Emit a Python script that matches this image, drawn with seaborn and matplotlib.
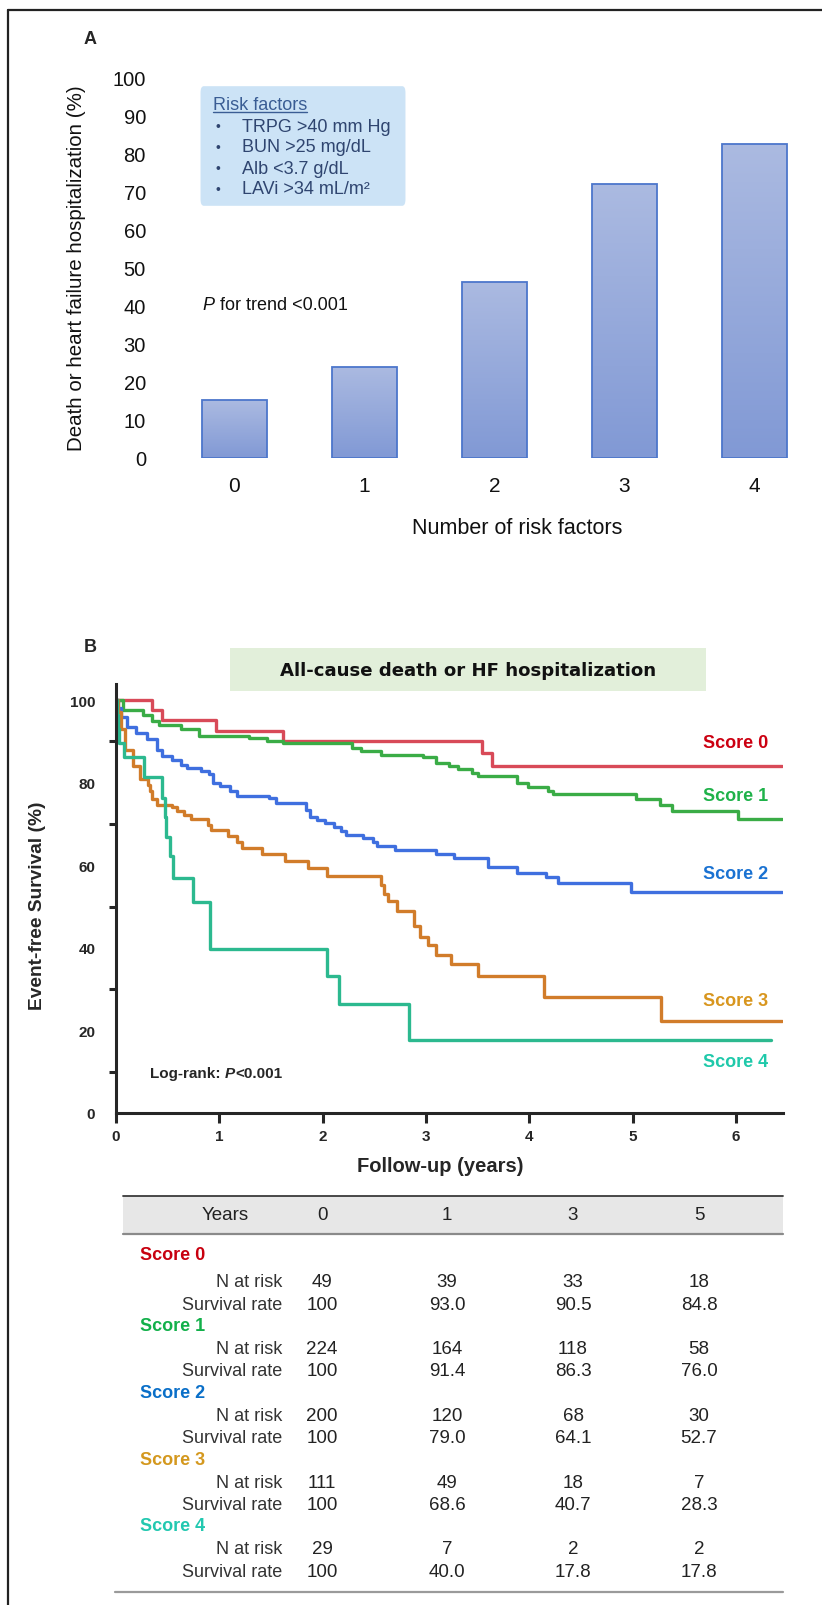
import numpy as np
import pandas as pd
import matplotlib
matplotlib.use("Agg")
import matplotlib.pyplot as plt
import seaborn as sns
from matplotlib.patches import FancyBboxPatch, Rectangle
from matplotlib.lines import Line2D
from matplotlib.colors import LinearSegmentedColormap

# ---------------- data ----------------
# Panel A
risk_factor_counts = ["0", "1", "2", "3", "4"]
event_rate_pct = [15.2, 24.0, 46.3, 71.9, 82.4]
risk_factor_items = ["TRPG >40 mm Hg", "BUN >25 mg/dL", "Alb <3.7 g/dL", "LAVi >34 mL/m\u00b2"]

# Panel B: Kaplan-Meier step curves (event times in years, survival % after step)
score_names = ["Score 0", "Score 1", "Score 2", "Score 3", "Score 4"]
score0_times = [0.35, 0.45, 0.97, 1.62, 3.54, 3.64]
score0_surv = [97.6, 95.1, 92.6, 90.2, 87.1, 84.0]
score1_times = [0.07, 0.26, 0.35, 0.42, 0.63, 0.80, 1.29, 1.46, 1.62, 2.28, 2.37, 2.56, 2.97,
                3.10, 3.22, 3.31, 3.45, 3.50, 3.88, 3.99, 4.18, 4.23, 5.03, 5.26, 5.38, 6.02]
score1_surv = [97.5, 96.5, 95.0, 94.0, 93.0, 91.4, 90.8, 90.2, 89.6, 88.3, 87.7, 86.8, 86.2,
               84.8, 84.0, 83.3, 82.4, 81.6, 79.9, 78.9, 78.1, 77.2, 76.0, 74.5, 73.1, 71.2]
score2_times = [0.02, 0.05, 0.11, 0.19, 0.30, 0.40, 0.45, 0.54, 0.63, 0.69, 0.82, 0.90, 0.94,
                1.01, 1.10, 1.17, 1.48, 1.55, 1.84, 1.88, 1.95, 2.02, 2.11, 2.18, 2.23, 2.39,
                2.49, 2.53, 2.70, 3.10, 3.27, 3.60, 3.88, 4.16, 4.28, 4.98]
score2_surv = [98.0, 96.0, 93.5, 92.0, 90.6, 88.0, 86.4, 85.4, 84.3, 83.5, 82.8, 82.2, 79.9,
               79.1, 78.1, 76.8, 76.2, 75.2, 73.5, 71.8, 71.0, 70.3, 69.3, 68.3, 67.3, 66.5,
               65.6, 64.7, 63.7, 62.7, 61.8, 59.7, 58.2, 57.2, 55.7, 53.5]
score3_times = [0.02, 0.05, 0.09, 0.16, 0.23, 0.31, 0.33, 0.35, 0.40, 0.54, 0.59, 0.66, 0.73,
                0.89, 0.92, 1.08, 1.17, 1.22, 1.41, 1.64, 1.86, 2.04, 2.56, 2.59, 2.63, 2.72,
                2.88, 2.94, 3.02, 3.10, 3.24, 3.50, 4.14, 5.27]
score3_surv = [97.0, 93.0, 88.0, 84.0, 81.0, 79.5, 78.0, 76.0, 74.7, 74.0, 73.1, 72.2, 71.2,
               69.8, 68.5, 67.2, 65.6, 64.3, 62.7, 61.0, 59.3, 57.5, 55.2, 53.0, 51.4, 49.0,
               45.2, 42.7, 40.6, 38.2, 36.0, 33.3, 28.0, 22.4]
score4_times = [0.01, 0.02, 0.03, 0.08, 0.27, 0.45, 0.47, 0.48, 0.52, 0.55, 0.75, 0.91, 2.04,
                2.16, 2.84]
score4_surv = [96.5, 93.0, 89.5, 86.2, 81.4, 76.4, 71.8, 66.8, 62.2, 56.8, 51.0, 39.7, 33.1,
               26.5, 17.7]
curve_end_years = [6.45, 6.45, 6.45, 6.45, 6.34]

# Table
table_years = ["0", "1", "3", "5"]
n_at_risk_score0 = [49, 39, 33, 18]
n_at_risk_score1 = [224, 164, 118, 58]
n_at_risk_score2 = [200, 120, 68, 30]
n_at_risk_score3 = [111, 49, 18, 7]
n_at_risk_score4 = [29, 7, 2, 2]
surv_rate_score0 = ["100", "93.0", "90.5", "84.8"]
surv_rate_score1 = ["100", "91.4", "86.3", "76.0"]
surv_rate_score2 = ["100", "79.0", "64.1", "52.7"]
surv_rate_score3 = ["100", "68.6", "40.7", "28.3"]
surv_rate_score4 = ["100", "40.0", "17.8", "17.8"]

# ---------------- style ----------------
sns.set_theme(style="white")
plt.rcParams["font.family"] = ["Liberation Sans", "DejaVu Sans"]

W, H = 822, 1606
fig = plt.figure(figsize=(W / 100, H / 100), dpi=100)


def fx(x):
    return x / W


def fy(y):
    return 1 - y / H


curve_colors = ["#d84a58", "#3aac46", "#3f6fdf", "#d17c2a", "#2cb98f"]
label_colors = ["#cc0011", "#1fb24a", "#1a72d2", "#d8961e", "#1fc9aa"]
table_label_colors = ["#c8000f", "#12b04a", "#0a6fc8", "#d4981e", "#22c8b0"]

# outer frame (left + top visible)
fig.add_artist(Line2D([fx(8), fx(8)], [fy(11), 0], transform=fig.transFigure,
                      color="#222222", lw=1.6))
fig.add_artist(Line2D([fx(8), 1], [fy(11), fy(11)], transform=fig.transFigure,
                      color="#222222", lw=1.6))

# ---------------- Panel A ----------------
fig.text(fx(90), fy(39), "A", fontsize=13, fontweight="bold", ha="center", va="center")

axA = fig.add_axes([fx(169.5), fy(459), 649.5 / W, 381 / H])
sns.barplot(x=risk_factor_counts, y=event_rate_pct, ax=axA, color="#9aaede", width=0.5,
            saturation=1, edgecolor="#4c76cb", linewidth=1.3)
grad = np.linspace(0, 1, 256).reshape(-1, 1)
gcmap = LinearSegmentedColormap.from_list("barg", ["#8199d5", "#abbae1"])
for p in list(axA.patches):
    x0, y0, w, h = p.get_x(), p.get_y(), p.get_width(), p.get_height()
    im = axA.imshow(grad, extent=[x0, x0 + w, y0, y0 + h], origin="lower", cmap=gcmap,
                    aspect="auto", zorder=0.5)
    im.set_clip_path(p)
    p.set_facecolor("none")
    p.set_zorder(1)
axA.set_xlim(-0.5, 4.5)
axA.set_ylim(0, 100)
axA.set_yticks(np.arange(0, 101, 10))
for s in axA.spines.values():
    s.set_visible(False)
axA.tick_params(axis="y", length=0, pad=17, labelsize=14.5, labelcolor="#111111")
axA.tick_params(axis="x", length=0, pad=13, labelsize=15, labelcolor="#111111")
axA.set_xlabel("")
axA.set_ylabel("")
fig.text(fx(76), fy(268), "Death or heart failure hospitalization (%)", rotation=90,
         fontsize=14.8, ha="center", va="center", color="#111111")
fig.text(fx(517), fy(528), "Number of risk factors", fontsize=15.5, ha="center", va="center",
         color="#111111")

# risk factor box
box = FancyBboxPatch((fx(203), fy(202)), fx(200), (202 - 92) / H,
                     boxstyle="round,pad=0.003,rounding_size=0.004",
                     transform=fig.transFigure, fc="#cce3f6", ec="none")
fig.add_artist(box)
txtc = "#2f4570"
rf = fig.text(fx(213), fy(105), "Risk factors", fontsize=13, color="#3a5d94",
              ha="left", va="center")
for i, item in enumerate(risk_factor_items):
    yy = 127 + i * 21
    fig.text(fx(218), fy(yy), "\u2022", fontsize=10, color=txtc, ha="center", va="center")
    fig.text(fx(242), fy(yy), item, fontsize=13, color=txtc, ha="left", va="center")

ptxt = fig.text(fx(202), fy(305), "P", fontsize=13, style="italic", ha="left", va="center",
                color="#111111")

# ---------------- Panel B ----------------
fig.text(fx(90), fy(647), "B", fontsize=13, fontweight="bold", ha="center", va="center")
fig.add_artist(Rectangle((fx(230), fy(692)), fx(476), (692 - 649) / H,
                         transform=fig.transFigure, fc="#e2efda", ec="none"))
fig.text(fx(468), fy(671), "All-cause death or HF hospitalization", fontsize=13.1,
         fontweight="bold", family="DejaVu Sans", ha="center", va="center", color="#111111")

axB = fig.add_axes([fx(116), fy(1114), 667 / W, (1114 - 685) / H])
all_times = [score0_times, score1_times, score2_times, score3_times, score4_times]
all_surv = [score0_surv, score1_surv, score2_surv, score3_surv, score4_surv]
frames = []
for name, t, s, end in zip(score_names, all_times, all_surv, curve_end_years):
    tt = [0.0] + list(t) + [end]
    ss = [100.0] + list(s) + [s[-1]]
    frames.append(pd.DataFrame({"Years": tt, "Survival": ss, "Score": name}))
km = pd.concat(frames, ignore_index=True)
sns.lineplot(data=km, x="Years", y="Survival", hue="Score", hue_order=score_names,
             palette=curve_colors, drawstyle="steps-post", estimator=None, sort=False,
             linewidth=2.4, legend=False, ax=axB)
axB.set_xlim(0, 6.455)
axB.set_ylim(0, 103.9)
axB.set_xticks(range(0, 7))
axB.set_yticks(range(0, 101, 20))
axB.set_yticks(range(10, 100, 20), minor=True)
for side in ["top", "right"]:
    axB.spines[side].set_visible(False)
for side in ["left", "bottom"]:
    axB.spines[side].set_linewidth(2.2)
    axB.spines[side].set_color("#262626")
axB.tick_params(axis="y", which="major", direction="out", length=9.4, width=2.2,
                color="#262626", pad=5.5, labelsize=11)
axB.tick_params(axis="y", which="minor", direction="out", length=5, width=2.2,
                color="#262626", left=True)
axB.tick_params(axis="x", which="major", direction="out", length=7.2, width=2.2,
                color="#262626", pad=4, labelsize=11, bottom=True)
for lab in axB.get_xticklabels() + axB.get_yticklabels():
    lab.set_fontweight("bold")
axB.set_xlabel("")
axB.set_ylabel("")
label_y = [89.7, 76.9, 58.0, 27.2, 12.4]
for name, yv, c in zip(score_names, label_y, label_colors):
    axB.text(6.31, yv, name, color=c, fontsize=13, fontweight="bold", ha="right",
             va="center")
fig.text(fx(37), fy(906), "Event-free Survival (%)", rotation=90, fontsize=13.8,
         fontweight="bold", ha="center", va="center")
fig.text(fx(440), fy(1167), "Follow-up (years)", fontsize=14.5, fontweight="bold",
         ha="center", va="center")
lr = fig.text(fx(150), fy(1074), "Log-rank: ", fontsize=11, fontweight="bold", ha="left",
              va="center")

# ---------------- Table ----------------
fig.add_artist(Rectangle((fx(123), fy(1235)), fx(660), (1235 - 1197) / H,
                         transform=fig.transFigure, fc="#e7e7e7", ec="none"))
fig.add_artist(Line2D([fx(123), fx(783)], [fy(1197), fy(1197)], transform=fig.transFigure,
                      color="#3a3a3a", lw=1.3))
fig.add_artist(Line2D([fx(123), fx(783)], [fy(1235), fy(1235)], transform=fig.transFigure,
                      color="#8a8a8a", lw=1.6))
fig.add_artist(Line2D([fx(115), fx(783)], [fy(1593), fy(1593)], transform=fig.transFigure,
                      color="#9a9a9a", lw=1.6))
col_x = [322, 447, 573, 699]
fig.text(fx(225), fy(1216), "Years", fontsize=13.5, ha="center", va="center", color="#222222")
for cx, yr in zip(col_x, table_years):
    fig.text(fx(cx), fy(1216), yr, fontsize=13.5, ha="center", va="center", color="#222222")
n_rows = [n_at_risk_score0, n_at_risk_score1, n_at_risk_score2, n_at_risk_score3,
          n_at_risk_score4]
s_rows = [surv_rate_score0, surv_rate_score1, surv_rate_score2, surv_rate_score3,
          surv_rate_score4]
for k in range(5):
    y0 = 1260 + 66.75 * k
    if k == 0:
        y0 = 1256
    ny = 1283 + 66.75 * k
    fig.text(fx(140), fy(y0), score_names[k], fontsize=13, fontweight="bold",
             color=table_label_colors[k], ha="left", va="center")
    fig.text(fx(282), fy(ny), "N at risk", fontsize=13, ha="right", va="center",
             color="#333333")
    fig.text(fx(282), fy(ny + 22.2), "Survival rate", fontsize=13, ha="right", va="center",
             color="#333333")
    for cx, nv, sv in zip(col_x, n_rows[k], s_rows[k]):
        fig.text(fx(cx), fy(ny), str(nv), fontsize=13.5, ha="center", va="center",
                 color="#222222")
        fig.text(fx(cx), fy(ny + 22.2), sv, fontsize=13.5, ha="center", va="center",
                 color="#222222")

# ---------------- text pieces that need measured positions ----------------
fig.canvas.draw()
r = fig.canvas.get_renderer()
bb = rf.get_window_extent(r)
fig.add_artist(Line2D([bb.x0 / W, bb.x1 / W], [(bb.y0 + 0.5) / H, (bb.y0 + 0.5) / H],
                      transform=fig.transFigure, color="#3a5d94", lw=1.0))
bb = ptxt.get_window_extent(r)
fig.text((bb.x1 + 1) / W, fy(305), " for trend <0.001", fontsize=13, ha="left", va="center",
         color="#111111")
bb = lr.get_window_extent(r)
bb2 = fig.text(bb.x1 / W, fy(1074), "P", fontsize=11, fontweight="bold", style="italic",
               ha="left", va="center")
fig.canvas.draw()
bb = bb2.get_window_extent(r)
fig.text((bb.x1 + 0.5) / W, fy(1074), "<0.001", fontsize=11, fontweight="bold", ha="left",
         va="center")

fig.savefig("out.png", dpi=100)
